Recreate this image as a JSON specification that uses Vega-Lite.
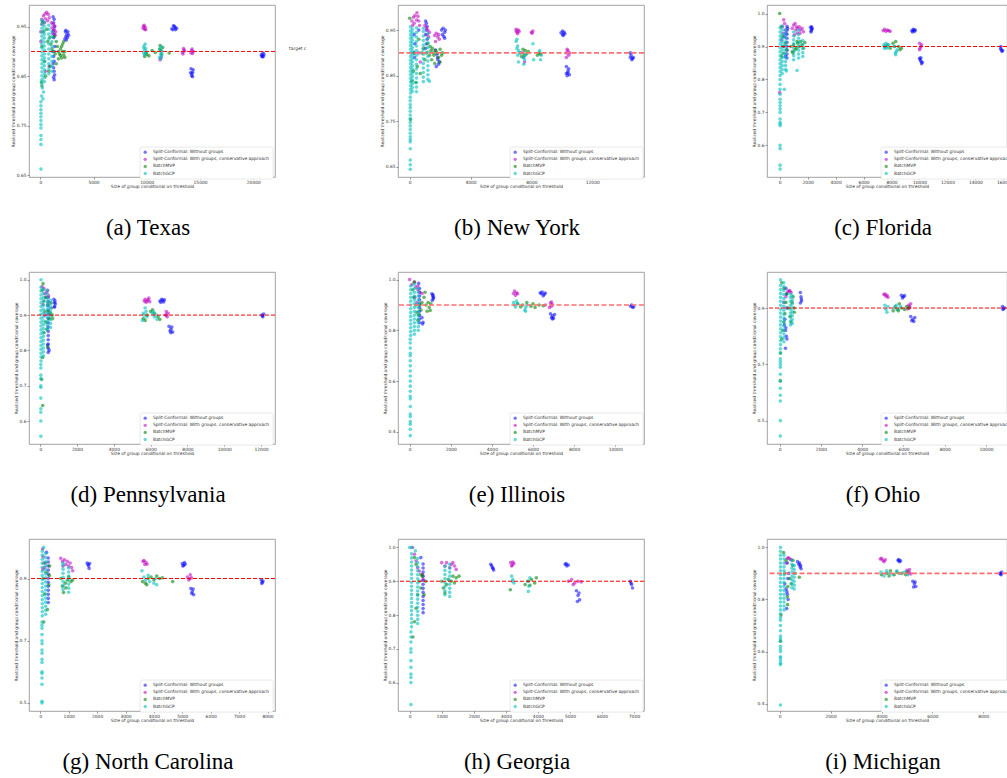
{
"$schema": "https://vega.github.io/schema/vega-lite/v6.json",
"padding": {"left": 9, "top": 4, "right": 0, "bottom": 0},
"background": "white",
"config": {
  "font": "DejaVu Sans",
  "view": {"stroke": "#8c8c8c", "strokeWidth": 0.8},
  "axis": {"labelFontSize": 4.4, "titleFontSize": 4.4, "labelColor": "#333", "titleColor": "#333", "titleFontWeight": "normal", "grid": false, "domain": false, "tickSize": 2, "tickColor": "#555", "tickWidth": 0.6, "labelPadding": 1, "titlePadding": 1, "labelFlush": false, "labelOverlap": false},
  "legend": {"title": null, "orient": "none", "labelFontSize": 4.4, "labelColor": "#333", "symbolSize": 11, "symbolType": "circle", "rowPadding": 2.1, "padding": 3, "labelOffset": 5.5, "fillColor": "white", "strokeColor": "#d9d9d9", "strokeWidth": 0.6, "cornerRadius": 1.5, "symbolStrokeWidth": 0, "labelLimit": 300},
  "title": {"font": "Liberation Serif", "fontSize": 23, "fontWeight": "normal", "color": "black", "orient": "bottom", "offset": 29.5, "anchor": "middle", "frame": "group", "dx": -4}
},
"datasets": {
"tx": [
{"m":"A","x":1200,"y":0.97},{"m":"A","x":1300,"y":0.965},{"m":"A","x":1250,"y":0.958},{"m":"A","x":1350,"y":0.95},{"m":"A","x":1200,"y":0.942},{"m":"A","x":1300,"y":0.935},{"m":"A","x":1250,"y":0.928},{"m":"A","x":1350,"y":0.91},{"m":"A","x":1300,"y":0.9},{"m":"A","x":1250,"y":0.89},{"m":"A","x":1300,"y":0.88},{"m":"A","x":1200,"y":0.875},{"m":"A","x":1250,"y":0.867},{"m":"A","x":1300,"y":0.86},{"m":"A","x":1350,"y":0.853},{"m":"A","x":1250,"y":0.848},{"m":"A","x":1300,"y":0.843},
{"m":"A","x":2300,"y":0.925},{"m":"A","x":2400,"y":0.93},{"m":"A","x":2500,"y":0.935},{"m":"A","x":2600,"y":0.94},{"m":"A","x":2350,"y":0.94},{"m":"A","x":2450,"y":0.923},{"m":"A","x":2550,"y":0.928},{"m":"A","x":2650,"y":0.933},{"m":"A","x":2400,"y":0.943},
{"m":"A","x":12350,"y":0.946},{"m":"A","x":12500,"y":0.952},{"m":"A","x":12650,"y":0.948},{"m":"A","x":12450,"y":0.944},{"m":"A","x":12600,"y":0.951},{"m":"A","x":12800,"y":0.947},{"m":"A","x":12700,"y":0.944},
{"m":"A","x":14150,"y":0.865},{"m":"A","x":14300,"y":0.858},{"m":"A","x":14200,"y":0.851},{"m":"A","x":14350,"y":0.863},{"m":"A","x":14250,"y":0.855},{"m":"A","x":14100,"y":0.857},{"m":"A","x":14300,"y":0.849},
{"m":"A","x":20750,"y":0.893},{"m":"A","x":20900,"y":0.897},{"m":"A","x":20850,"y":0.889},{"m":"A","x":21000,"y":0.894},{"m":"A","x":20800,"y":0.891},{"m":"A","x":20950,"y":0.89},
{"m":"B","x":150,"y":0.965},{"m":"B","x":300,"y":0.972},{"m":"B","x":450,"y":0.976},{"m":"B","x":600,"y":0.979},{"m":"B","x":750,"y":0.975},{"m":"B","x":250,"y":0.96},{"m":"B","x":500,"y":0.966},{"m":"B","x":700,"y":0.962},{"m":"B","x":850,"y":0.968},{"m":"B","x":400,"y":0.958},{"m":"B","x":150,"y":0.955},{"m":"B","x":50,"y":0.94},{"m":"B","x":50,"y":0.92},{"m":"B","x":500,"y":0.86},{"m":"B","x":850,"y":0.87},
{"m":"B","x":1050,"y":0.958},{"m":"B","x":1200,"y":0.955},{"m":"B","x":1350,"y":0.952},{"m":"B","x":1100,"y":0.948},{"m":"B","x":1300,"y":0.945},{"m":"B","x":1450,"y":0.94},{"m":"B","x":1150,"y":0.937},{"m":"B","x":1400,"y":0.933},{"m":"B","x":1250,"y":0.942},
{"m":"B","x":9650,"y":0.947},{"m":"B","x":9750,"y":0.953},{"m":"B","x":9850,"y":0.949},{"m":"B","x":9900,"y":0.944},{"m":"B","x":9700,"y":0.951},{"m":"B","x":9800,"y":0.945},
{"m":"B","x":11250,"y":0.883},{"m":"B","x":11350,"y":0.888},
{"m":"B","x":13350,"y":0.898},{"m":"B","x":13450,"y":0.906},{"m":"B","x":13550,"y":0.901},{"m":"B","x":13400,"y":0.895},{"m":"B","x":13500,"y":0.903},
{"m":"B","x":14150,"y":0.897},{"m":"B","x":14250,"y":0.905},{"m":"B","x":14350,"y":0.9},{"m":"B","x":14200,"y":0.902},{"m":"B","x":14300,"y":0.896},
{"m":"C","x":900,"y":0.928},{"m":"C","x":1000,"y":0.915},{"m":"C","x":1100,"y":0.905},{"m":"C","x":1200,"y":0.9},{"m":"C","x":1300,"y":0.93},{"m":"C","x":1500,"y":0.92},{"m":"C","x":1600,"y":0.91},{"m":"C","x":1700,"y":0.9},{"m":"C","x":1800,"y":0.895},{"m":"C","x":1900,"y":0.905},{"m":"C","x":2000,"y":0.91},{"m":"C","x":2100,"y":0.9},{"m":"C","x":2200,"y":0.893},{"m":"C","x":2300,"y":0.888},{"m":"C","x":2000,"y":0.887},{"m":"C","x":2100,"y":0.915},{"m":"C","x":1900,"y":0.892},{"m":"C","x":2300,"y":0.9},{"m":"C","x":2200,"y":0.92},{"m":"C","x":1400,"y":0.895},{"m":"C","x":1700,"y":0.885},{"m":"C","x":1500,"y":0.875},
{"m":"C","x":200,"y":0.96},{"m":"C","x":300,"y":0.94},{"m":"C","x":150,"y":0.91},{"m":"C","x":400,"y":0.88},{"m":"C","x":100,"y":0.838},{"m":"C","x":150,"y":0.83},{"m":"C","x":600,"y":0.945},{"m":"C","x":700,"y":0.92},{"m":"C","x":800,"y":0.86},{"m":"C","x":900,"y":0.87},{"m":"C","x":500,"y":0.85},
{"m":"C","x":9800,"y":0.89},{"m":"C","x":10000,"y":0.894},{"m":"C","x":10200,"y":0.891},{"m":"C","x":10500,"y":0.902},{"m":"C","x":10800,"y":0.898},{"m":"C","x":9900,"y":0.897},
{"m":"C","x":11250,"y":0.912},{"m":"C","x":11350,"y":0.902},{"m":"C","x":11400,"y":0.895},{"m":"C","x":11200,"y":0.905},{"m":"C","x":11500,"y":0.908},{"m":"C","x":12100,"y":0.897},
{"m":"D","x":150,"y":0.835},{"m":"D","x":150,"y":0.843},{"m":"D","x":150,"y":0.851},{"m":"D","x":150,"y":0.859},{"m":"D","x":150,"y":0.867},{"m":"D","x":150,"y":0.875},{"m":"D","x":150,"y":0.883},{"m":"D","x":150,"y":0.891},{"m":"D","x":150,"y":0.899},{"m":"D","x":150,"y":0.907},{"m":"D","x":150,"y":0.915},{"m":"D","x":150,"y":0.923},{"m":"D","x":150,"y":0.931},{"m":"D","x":150,"y":0.939},{"m":"D","x":150,"y":0.947},{"m":"D","x":150,"y":0.955},{"m":"D","x":150,"y":0.963},
{"m":"D","x":380,"y":0.839},{"m":"D","x":380,"y":0.847},{"m":"D","x":380,"y":0.855},{"m":"D","x":380,"y":0.863},{"m":"D","x":380,"y":0.871},{"m":"D","x":380,"y":0.879},{"m":"D","x":380,"y":0.887},{"m":"D","x":380,"y":0.895},{"m":"D","x":380,"y":0.903},{"m":"D","x":380,"y":0.911},{"m":"D","x":380,"y":0.919},{"m":"D","x":380,"y":0.927},{"m":"D","x":380,"y":0.935},{"m":"D","x":380,"y":0.943},{"m":"D","x":380,"y":0.951},{"m":"D","x":380,"y":0.959},
{"m":"D","x":200,"y":0.826},{"m":"D","x":300,"y":0.818},{"m":"D","x":120,"y":0.81},{"m":"D","x":250,"y":0.804},
{"m":"D","x":60,"y":0.798},{"m":"D","x":60,"y":0.79},{"m":"D","x":60,"y":0.782},{"m":"D","x":60,"y":0.775},{"m":"D","x":60,"y":0.768},{"m":"D","x":60,"y":0.76},{"m":"D","x":60,"y":0.752},{"m":"D","x":60,"y":0.745},{"m":"D","x":60,"y":0.73},{"m":"D","x":60,"y":0.722},{"m":"D","x":60,"y":0.712},{"m":"D","x":60,"y":0.662},
{"m":"D","x":800,"y":0.855},{"m":"D","x":800,"y":0.865},{"m":"D","x":800,"y":0.875},{"m":"D","x":800,"y":0.885},{"m":"D","x":800,"y":0.895},{"m":"D","x":800,"y":0.905},{"m":"D","x":800,"y":0.915},{"m":"D","x":800,"y":0.925},{"m":"D","x":800,"y":0.935},{"m":"D","x":800,"y":0.945},{"m":"D","x":800,"y":0.953},
{"m":"D","x":1100,"y":0.86},{"m":"D","x":1100,"y":0.87},{"m":"D","x":1100,"y":0.88},{"m":"D","x":1100,"y":0.89},{"m":"D","x":1100,"y":0.9},{"m":"D","x":1100,"y":0.91},{"m":"D","x":1100,"y":0.92},{"m":"D","x":1100,"y":0.93},{"m":"D","x":1100,"y":0.94},
{"m":"D","x":9700,"y":0.897},{"m":"D","x":9800,"y":0.902},{"m":"D","x":9900,"y":0.906},{"m":"D","x":9750,"y":0.911},{"m":"D","x":9850,"y":0.915},{"m":"D","x":9950,"y":0.899},{"m":"D","x":9700,"y":0.907},{"m":"D","x":9800,"y":0.893},
{"m":"D","x":11200,"y":0.888},{"m":"D","x":11300,"y":0.895},{"m":"D","x":11400,"y":0.9},{"m":"D","x":11250,"y":0.905},{"m":"D","x":11350,"y":0.91},{"m":"D","x":11300,"y":0.885},{"m":"D","x":11400,"y":0.892}
],
"ny": [
{"m":"A","x":1050,"y":0.97},{"m":"A","x":1100,"y":0.965},{"m":"A","x":1150,"y":0.958},{"m":"A","x":1100,"y":0.95},{"m":"A","x":1050,"y":0.94},{"m":"A","x":1150,"y":0.93},{"m":"A","x":1100,"y":0.92},{"m":"A","x":1050,"y":0.91},{"m":"A","x":300,"y":0.94},{"m":"A","x":350,"y":0.92},{"m":"A","x":280,"y":0.9},{"m":"A","x":320,"y":0.89},{"m":"A","x":600,"y":0.95},
{"m":"A","x":1700,"y":0.906},{"m":"A","x":1800,"y":0.897},{"m":"A","x":1850,"y":0.885},{"m":"A","x":1900,"y":0.875},{"m":"A","x":1830,"y":0.89},{"m":"A","x":1950,"y":0.88},{"m":"A","x":1750,"y":0.87},
{"m":"A","x":2100,"y":0.95},{"m":"A","x":2200,"y":0.954},{"m":"A","x":2300,"y":0.945},{"m":"A","x":2250,"y":0.936},{"m":"A","x":2350,"y":0.95},{"m":"A","x":2150,"y":0.94},{"m":"A","x":2300,"y":0.932},
{"m":"A","x":9950,"y":0.944},{"m":"A","x":10050,"y":0.94},{"m":"A","x":10150,"y":0.945},{"m":"A","x":10050,"y":0.948},{"m":"A","x":10100,"y":0.938},{"m":"A","x":10200,"y":0.942},
{"m":"A","x":10300,"y":0.87},{"m":"A","x":10400,"y":0.86},{"m":"A","x":10350,"y":0.85},{"m":"A","x":10450,"y":0.865},{"m":"A","x":10300,"y":0.855},{"m":"A","x":10400,"y":0.856},{"m":"A","x":10500,"y":0.852},
{"m":"A","x":14500,"y":0.89},{"m":"A","x":14600,"y":0.885},{"m":"A","x":14550,"y":0.895},{"m":"A","x":14650,"y":0.888},{"m":"A","x":14500,"y":0.9},{"m":"A","x":14700,"y":0.89},
{"m":"B","x":150,"y":0.97},{"m":"B","x":250,"y":0.978},{"m":"B","x":350,"y":0.982},{"m":"B","x":480,"y":0.988},{"m":"B","x":550,"y":0.98},{"m":"B","x":300,"y":0.965},{"m":"B","x":450,"y":0.972},{"m":"B","x":600,"y":0.97},{"m":"B","x":200,"y":0.96},{"m":"B","x":650,"y":0.96},
{"m":"B","x":1000,"y":0.96},{"m":"B","x":1100,"y":0.955},{"m":"B","x":1200,"y":0.95},{"m":"B","x":1300,"y":0.945},{"m":"B","x":1250,"y":0.935},{"m":"B","x":1150,"y":0.94},{"m":"B","x":700,"y":0.88},{"m":"B","x":600,"y":0.9},
{"m":"B","x":1650,"y":0.938},{"m":"B","x":1750,"y":0.943},{"m":"B","x":1850,"y":0.935},{"m":"B","x":1950,"y":0.93},{"m":"B","x":1700,"y":0.925},{"m":"B","x":1900,"y":0.94},
{"m":"B","x":7000,"y":0.948},{"m":"B","x":7050,"y":0.945},{"m":"B","x":7150,"y":0.95},{"m":"B","x":7100,"y":0.942},{"m":"B","x":7200,"y":0.947},{"m":"B","x":7000,"y":0.952},
{"m":"B","x":7500,"y":0.89},{"m":"B","x":7550,"y":0.88},{"m":"B","x":7450,"y":0.9},{"m":"B","x":8000,"y":0.945},{"m":"B","x":8050,"y":0.943},{"m":"B","x":8100,"y":0.948},
{"m":"B","x":10300,"y":0.9},{"m":"B","x":10400,"y":0.905},{"m":"B","x":10450,"y":0.895},{"m":"B","x":10350,"y":0.908},{"m":"B","x":10300,"y":0.89},{"m":"B","x":10500,"y":0.9},
{"m":"C","x":0,"y":0.976},{"m":"C","x":60,"y":0.754},{"m":"C","x":150,"y":0.838},{"m":"C","x":250,"y":0.86},{"m":"C","x":400,"y":0.835},{"m":"C","x":500,"y":0.87},{"m":"C","x":700,"y":0.855},{"m":"C","x":800,"y":0.9},{"m":"C","x":900,"y":0.91},{"m":"C","x":1000,"y":0.885},{"m":"C","x":1200,"y":0.92},
{"m":"C","x":1300,"y":0.895},{"m":"C","x":1400,"y":0.905},{"m":"C","x":1500,"y":0.91},{"m":"C","x":1600,"y":0.895},{"m":"C","x":1700,"y":0.905},{"m":"C","x":1800,"y":0.9},{"m":"C","x":1900,"y":0.89},{"m":"C","x":2000,"y":0.908},{"m":"C","x":2100,"y":0.895},{"m":"C","x":2150,"y":0.9},{"m":"C","x":1350,"y":0.914},{"m":"C","x":1450,"y":0.885},{"m":"C","x":1650,"y":0.877},{"m":"C","x":2000,"y":0.88},{"m":"C","x":1550,"y":0.9},
{"m":"C","x":600,"y":0.93},{"m":"C","x":300,"y":0.9},{"m":"C","x":1100,"y":0.9},
{"m":"C","x":7300,"y":0.9},{"m":"C","x":7450,"y":0.908},{"m":"C","x":7600,"y":0.905},{"m":"C","x":7700,"y":0.898},{"m":"C","x":7550,"y":0.895},{"m":"C","x":7800,"y":0.903},{"m":"C","x":7350,"y":0.892},
{"m":"C","x":8400,"y":0.895},{"m":"C","x":8500,"y":0.9},{"m":"C","x":8600,"y":0.897},
{"m":"D","x":60,"y":0.812},{"m":"D","x":60,"y":0.82},{"m":"D","x":60,"y":0.828},{"m":"D","x":60,"y":0.836},{"m":"D","x":60,"y":0.844},{"m":"D","x":60,"y":0.852},{"m":"D","x":60,"y":0.86},{"m":"D","x":60,"y":0.868},{"m":"D","x":60,"y":0.876},{"m":"D","x":60,"y":0.884},{"m":"D","x":60,"y":0.892},{"m":"D","x":60,"y":0.9},{"m":"D","x":60,"y":0.908},{"m":"D","x":60,"y":0.916},{"m":"D","x":60,"y":0.924},{"m":"D","x":60,"y":0.932},{"m":"D","x":60,"y":0.94},{"m":"D","x":60,"y":0.948},{"m":"D","x":60,"y":0.957},
{"m":"D","x":180,"y":0.816},{"m":"D","x":180,"y":0.824},{"m":"D","x":180,"y":0.832},{"m":"D","x":180,"y":0.84},{"m":"D","x":180,"y":0.848},{"m":"D","x":180,"y":0.856},{"m":"D","x":180,"y":0.864},{"m":"D","x":180,"y":0.872},{"m":"D","x":180,"y":0.88},{"m":"D","x":180,"y":0.888},{"m":"D","x":180,"y":0.896},{"m":"D","x":180,"y":0.904},{"m":"D","x":180,"y":0.912},{"m":"D","x":180,"y":0.92},{"m":"D","x":180,"y":0.928},{"m":"D","x":180,"y":0.936},{"m":"D","x":180,"y":0.944},{"m":"D","x":180,"y":0.952},
{"m":"D","x":40,"y":0.803},{"m":"D","x":40,"y":0.795},{"m":"D","x":40,"y":0.787},{"m":"D","x":40,"y":0.78},{"m":"D","x":40,"y":0.772},{"m":"D","x":40,"y":0.764},{"m":"D","x":40,"y":0.756},{"m":"D","x":40,"y":0.748},{"m":"D","x":40,"y":0.74},{"m":"D","x":40,"y":0.732},{"m":"D","x":40,"y":0.724},{"m":"D","x":40,"y":0.716},{"m":"D","x":40,"y":0.71},{"m":"D","x":40,"y":0.705},{"m":"D","x":40,"y":0.69},{"m":"D","x":40,"y":0.665},{"m":"D","x":40,"y":0.655},{"m":"D","x":40,"y":0.645},
{"m":"D","x":450,"y":0.815},{"m":"D","x":450,"y":0.825},{"m":"D","x":450,"y":0.835},{"m":"D","x":450,"y":0.845},{"m":"D","x":450,"y":0.855},{"m":"D","x":450,"y":0.865},{"m":"D","x":450,"y":0.875},{"m":"D","x":450,"y":0.885},{"m":"D","x":450,"y":0.895},{"m":"D","x":450,"y":0.905},{"m":"D","x":450,"y":0.915},{"m":"D","x":450,"y":0.925},{"m":"D","x":450,"y":0.935},{"m":"D","x":450,"y":0.945},{"m":"D","x":450,"y":0.955},
{"m":"D","x":900,"y":0.837},{"m":"D","x":900,"y":0.847},{"m":"D","x":900,"y":0.857},{"m":"D","x":900,"y":0.867},{"m":"D","x":900,"y":0.877},{"m":"D","x":900,"y":0.887},{"m":"D","x":900,"y":0.897},{"m":"D","x":900,"y":0.907},{"m":"D","x":900,"y":0.917},{"m":"D","x":900,"y":0.927},{"m":"D","x":900,"y":0.937},{"m":"D","x":900,"y":0.947},{"m":"D","x":900,"y":0.954},
{"m":"D","x":1200,"y":0.842},{"m":"D","x":1200,"y":0.852},{"m":"D","x":1200,"y":0.862},{"m":"D","x":1200,"y":0.872},{"m":"D","x":1200,"y":0.882},{"m":"D","x":1200,"y":0.892},{"m":"D","x":1200,"y":0.902},{"m":"D","x":1200,"y":0.912},{"m":"D","x":1200,"y":0.922},{"m":"D","x":1200,"y":0.932},{"m":"D","x":1200,"y":0.942},{"m":"D","x":1300,"y":0.838},
{"m":"D","x":7000,"y":0.925},{"m":"D","x":7050,"y":0.91},{"m":"D","x":7100,"y":0.895},{"m":"D","x":7150,"y":0.88},{"m":"D","x":7200,"y":0.9},{"m":"D","x":7050,"y":0.93},{"m":"D","x":7100,"y":0.915},{"m":"D","x":7150,"y":0.905},
{"m":"D","x":7500,"y":0.875},{"m":"D","x":7550,"y":0.885},{"m":"D","x":7600,"y":0.895},{"m":"D","x":7450,"y":0.89},{"m":"D","x":8100,"y":0.92},{"m":"D","x":8150,"y":0.885},
{"m":"D","x":8550,"y":0.905},{"m":"D","x":8600,"y":0.885},{"m":"D","x":8650,"y":0.895}
],
"fl": [
{"m":"A","x":520,"y":0.865},{"m":"A","x":520,"y":0.877},{"m":"A","x":520,"y":0.889},{"m":"A","x":520,"y":0.901},{"m":"A","x":520,"y":0.913},{"m":"A","x":520,"y":0.925},{"m":"A","x":520,"y":0.937},{"m":"A","x":520,"y":0.949},{"m":"A","x":520,"y":0.961},{"m":"A","x":450,"y":0.94},{"m":"A","x":420,"y":0.87},{"m":"A","x":570,"y":0.955},{"m":"A","x":350,"y":0.93},
{"m":"A","x":2200,"y":0.958},{"m":"A","x":2250,"y":0.948},{"m":"A","x":2300,"y":0.952},{"m":"A","x":2240,"y":0.944},{"m":"A","x":2320,"y":0.955},{"m":"A","x":2280,"y":0.96},
{"m":"A","x":9450,"y":0.948},{"m":"A","x":9550,"y":0.952},{"m":"A","x":9650,"y":0.946},{"m":"A","x":9600,"y":0.95},{"m":"A","x":9500,"y":0.944},{"m":"A","x":9700,"y":0.95},
{"m":"A","x":10000,"y":0.864},{"m":"A","x":10100,"y":0.855},{"m":"A","x":10150,"y":0.848},{"m":"A","x":10050,"y":0.86},{"m":"A","x":10200,"y":0.852},{"m":"A","x":10100,"y":0.866},
{"m":"A","x":15800,"y":0.893},{"m":"A","x":15900,"y":0.885},{"m":"A","x":15850,"y":0.89},{"m":"A","x":15950,"y":0.888},{"m":"A","x":15820,"y":0.9},
{"m":"B","x":0,"y":0.76},{"m":"B","x":200,"y":0.96},{"m":"B","x":290,"y":0.981},{"m":"B","x":350,"y":0.97},{"m":"B","x":250,"y":0.94},{"m":"B","x":400,"y":0.95},{"m":"B","x":150,"y":0.92},{"m":"B","x":300,"y":0.9},
{"m":"B","x":900,"y":0.955},{"m":"B","x":1000,"y":0.965},{"m":"B","x":1100,"y":0.97},{"m":"B","x":1200,"y":0.96},{"m":"B","x":1300,"y":0.955},{"m":"B","x":1400,"y":0.96},{"m":"B","x":1500,"y":0.95},{"m":"B","x":1600,"y":0.955},{"m":"B","x":1700,"y":0.945},{"m":"B","x":1250,"y":0.94},{"m":"B","x":1050,"y":0.935},{"m":"B","x":1150,"y":0.95},{"m":"B","x":1450,"y":0.94},
{"m":"B","x":7400,"y":0.948},{"m":"B","x":7500,"y":0.952},{"m":"B","x":7600,"y":0.946},{"m":"B","x":7700,"y":0.95},{"m":"B","x":7800,"y":0.948},{"m":"B","x":7900,"y":0.946},
{"m":"B","x":10000,"y":0.91},{"m":"B","x":10100,"y":0.9},{"m":"B","x":10050,"y":0.895},{"m":"B","x":10150,"y":0.905},{"m":"B","x":10000,"y":0.89},
{"m":"C","x":0,"y":1.0},{"m":"C","x":100,"y":0.96},{"m":"C","x":200,"y":0.93},{"m":"C","x":250,"y":0.9},{"m":"C","x":150,"y":0.87},{"m":"C","x":300,"y":0.88},{"m":"C","x":400,"y":0.91},{"m":"C","x":500,"y":0.89},
{"m":"C","x":800,"y":0.9},{"m":"C","x":900,"y":0.885},{"m":"C","x":1000,"y":0.905},{"m":"C","x":1100,"y":0.89},{"m":"C","x":1200,"y":0.895},{"m":"C","x":1300,"y":0.91},{"m":"C","x":1400,"y":0.9},{"m":"C","x":1500,"y":0.915},{"m":"C","x":1600,"y":0.905},{"m":"C","x":1700,"y":0.895},{"m":"C","x":1800,"y":0.912},{"m":"C","x":950,"y":0.88},{"m":"C","x":1250,"y":0.915},
{"m":"C","x":7500,"y":0.9},{"m":"C","x":7700,"y":0.905},{"m":"C","x":7900,"y":0.895},{"m":"C","x":8100,"y":0.91},{"m":"C","x":8300,"y":0.915},{"m":"C","x":8500,"y":0.9},{"m":"C","x":8700,"y":0.895},{"m":"C","x":8600,"y":0.89},{"m":"C","x":8200,"y":0.9},
{"m":"D","x":30,"y":0.528},{"m":"D","x":30,"y":0.54},{"m":"D","x":30,"y":0.59},{"m":"D","x":30,"y":0.6},{"m":"D","x":30,"y":0.66},{"m":"D","x":30,"y":0.665},{"m":"D","x":30,"y":0.67},{"m":"D","x":30,"y":0.68},{"m":"D","x":30,"y":0.7},{"m":"D","x":30,"y":0.71},{"m":"D","x":30,"y":0.72},{"m":"D","x":30,"y":0.73},{"m":"D","x":30,"y":0.74},{"m":"D","x":30,"y":0.755},{"m":"D","x":30,"y":0.77},{"m":"D","x":30,"y":0.785},{"m":"D","x":30,"y":0.8},
{"m":"D","x":30,"y":0.812},{"m":"D","x":30,"y":0.824},{"m":"D","x":30,"y":0.836},{"m":"D","x":30,"y":0.848},{"m":"D","x":30,"y":0.86},{"m":"D","x":30,"y":0.872},{"m":"D","x":30,"y":0.884},{"m":"D","x":30,"y":0.896},{"m":"D","x":30,"y":0.908},{"m":"D","x":30,"y":0.92},{"m":"D","x":30,"y":0.932},{"m":"D","x":30,"y":0.944},{"m":"D","x":30,"y":0.956},
{"m":"D","x":180,"y":0.818},{"m":"D","x":180,"y":0.83},{"m":"D","x":180,"y":0.842},{"m":"D","x":180,"y":0.854},{"m":"D","x":180,"y":0.866},{"m":"D","x":180,"y":0.878},{"m":"D","x":180,"y":0.89},{"m":"D","x":180,"y":0.902},{"m":"D","x":180,"y":0.914},{"m":"D","x":180,"y":0.926},{"m":"D","x":180,"y":0.938},{"m":"D","x":180,"y":0.95},{"m":"D","x":180,"y":0.962},
{"m":"D","x":420,"y":0.83},{"m":"D","x":420,"y":0.842},{"m":"D","x":420,"y":0.854},{"m":"D","x":420,"y":0.866},{"m":"D","x":420,"y":0.878},{"m":"D","x":420,"y":0.89},{"m":"D","x":420,"y":0.902},{"m":"D","x":420,"y":0.914},{"m":"D","x":420,"y":0.926},{"m":"D","x":420,"y":0.938},{"m":"D","x":420,"y":0.95},
{"m":"D","x":330,"y":0.77},{"m":"D","x":480,"y":0.826},{"m":"D","x":1240,"y":0.827},
{"m":"D","x":1000,"y":0.86},{"m":"D","x":1000,"y":0.872},{"m":"D","x":1000,"y":0.884},{"m":"D","x":1000,"y":0.896},{"m":"D","x":1000,"y":0.908},{"m":"D","x":1000,"y":0.92},{"m":"D","x":1000,"y":0.932},{"m":"D","x":1000,"y":0.944},
{"m":"D","x":1350,"y":0.865},{"m":"D","x":1350,"y":0.877},{"m":"D","x":1350,"y":0.889},{"m":"D","x":1350,"y":0.901},{"m":"D","x":1350,"y":0.913},{"m":"D","x":1350,"y":0.925},{"m":"D","x":1350,"y":0.937},{"m":"D","x":1350,"y":0.949},
{"m":"D","x":1650,"y":0.87},{"m":"D","x":1650,"y":0.882},{"m":"D","x":1650,"y":0.894},{"m":"D","x":1650,"y":0.906},{"m":"D","x":1650,"y":0.918},
{"m":"D","x":7500,"y":0.895},{"m":"D","x":7600,"y":0.91},{"m":"D","x":7700,"y":0.9},{"m":"D","x":7800,"y":0.905},{"m":"D","x":7550,"y":0.9},{"m":"D","x":7650,"y":0.895},{"m":"D","x":8200,"y":0.9},{"m":"D","x":8270,"y":0.88},{"m":"D","x":8300,"y":0.875},{"m":"D","x":8400,"y":0.89},{"m":"D","x":7450,"y":0.905},{"m":"D","x":8350,"y":0.885}
],
"pa": [
{"m":"A","x":430,"y":0.794},{"m":"A","x":430,"y":0.806},{"m":"A","x":430,"y":0.818},{"m":"A","x":430,"y":0.83},{"m":"A","x":430,"y":0.842},{"m":"A","x":430,"y":0.854},{"m":"A","x":430,"y":0.866},{"m":"A","x":430,"y":0.878},{"m":"A","x":430,"y":0.89},{"m":"A","x":430,"y":0.902},{"m":"A","x":430,"y":0.914},{"m":"A","x":430,"y":0.926},{"m":"A","x":430,"y":0.938},{"m":"A","x":430,"y":0.95},{"m":"A","x":480,"y":0.8},{"m":"A","x":400,"y":0.815},
{"m":"A","x":740,"y":0.945},{"m":"A","x":760,"y":0.935},{"m":"A","x":780,"y":0.925},{"m":"A","x":800,"y":0.94},{"m":"A","x":760,"y":0.922},{"m":"A","x":820,"y":0.932},
{"m":"A","x":6500,"y":0.94},{"m":"A","x":6600,"y":0.945},{"m":"A","x":6700,"y":0.937},{"m":"A","x":6650,"y":0.942},{"m":"A","x":6550,"y":0.936},{"m":"A","x":6750,"y":0.943},
{"m":"A","x":7000,"y":0.868},{"m":"A","x":7100,"y":0.86},{"m":"A","x":7200,"y":0.852},{"m":"A","x":7050,"y":0.855},{"m":"A","x":7150,"y":0.866},{"m":"A","x":7100,"y":0.85},
{"m":"A","x":12050,"y":0.9},{"m":"A","x":12100,"y":0.895},{"m":"A","x":12150,"y":0.903},{"m":"A","x":12080,"y":0.898},
{"m":"B","x":200,"y":0.975},{"m":"B","x":250,"y":0.96},{"m":"B","x":300,"y":0.95},{"m":"B","x":350,"y":0.965},{"m":"B","x":400,"y":0.97},{"m":"B","x":150,"y":0.93},{"m":"B","x":250,"y":0.9},{"m":"B","x":450,"y":0.955},{"m":"B","x":100,"y":0.98},
{"m":"B","x":5700,"y":0.945},{"m":"B","x":5800,"y":0.94},{"m":"B","x":5900,"y":0.948},{"m":"B","x":5750,"y":0.936},{"m":"B","x":5850,"y":0.943},{"m":"B","x":5950,"y":0.938},{"m":"B","x":5650,"y":0.94},
{"m":"B","x":6800,"y":0.9},{"m":"B","x":6850,"y":0.91},{"m":"B","x":6900,"y":0.895},{"m":"B","x":6950,"y":0.905},{"m":"B","x":6850,"y":0.9},
{"m":"C","x":130,"y":0.644},{"m":"C","x":70,"y":0.718},{"m":"C","x":130,"y":0.78},{"m":"C","x":150,"y":0.989},{"m":"C","x":100,"y":0.97},{"m":"C","x":200,"y":0.94},{"m":"C","x":250,"y":0.91},{"m":"C","x":300,"y":0.88},{"m":"C","x":350,"y":0.86},{"m":"C","x":200,"y":0.85},{"m":"C","x":300,"y":0.95},{"m":"C","x":400,"y":0.93},{"m":"C","x":450,"y":0.91},{"m":"C","x":500,"y":0.89},{"m":"C","x":580,"y":0.935},{"m":"C","x":600,"y":0.92},{"m":"C","x":650,"y":0.9},{"m":"C","x":670,"y":0.89},{"m":"C","x":550,"y":0.905},{"m":"C","x":400,"y":0.81},
{"m":"C","x":5600,"y":0.89},{"m":"C","x":5800,"y":0.9},{"m":"C","x":6000,"y":0.91},{"m":"C","x":6100,"y":0.915},{"m":"C","x":6200,"y":0.905},{"m":"C","x":6400,"y":0.895},{"m":"C","x":6500,"y":0.888},{"m":"C","x":5700,"y":0.885},
{"m":"D","x":30,"y":0.557},{"m":"D","x":30,"y":0.6},{"m":"D","x":30,"y":0.625},{"m":"D","x":30,"y":0.635},{"m":"D","x":30,"y":0.665},{"m":"D","x":30,"y":0.695},{"m":"D","x":30,"y":0.7},{"m":"D","x":30,"y":0.72},{"m":"D","x":30,"y":0.73},{"m":"D","x":30,"y":0.75},{"m":"D","x":30,"y":0.76},
{"m":"D","x":40,"y":0.77},{"m":"D","x":40,"y":0.781},{"m":"D","x":40,"y":0.792},{"m":"D","x":40,"y":0.803},{"m":"D","x":40,"y":0.814},{"m":"D","x":40,"y":0.825},{"m":"D","x":40,"y":0.836},{"m":"D","x":40,"y":0.847},{"m":"D","x":40,"y":0.858},{"m":"D","x":40,"y":0.869},{"m":"D","x":40,"y":0.88},{"m":"D","x":40,"y":0.891},{"m":"D","x":40,"y":0.902},{"m":"D","x":40,"y":0.913},{"m":"D","x":40,"y":0.924},{"m":"D","x":40,"y":0.935},{"m":"D","x":40,"y":0.946},{"m":"D","x":40,"y":0.957},{"m":"D","x":40,"y":0.968},{"m":"D","x":40,"y":0.979},{"m":"D","x":40,"y":1.0},
{"m":"D","x":170,"y":0.785},{"m":"D","x":170,"y":0.796},{"m":"D","x":170,"y":0.807},{"m":"D","x":170,"y":0.818},{"m":"D","x":170,"y":0.829},{"m":"D","x":170,"y":0.84},{"m":"D","x":170,"y":0.851},{"m":"D","x":170,"y":0.862},{"m":"D","x":170,"y":0.873},{"m":"D","x":170,"y":0.884},{"m":"D","x":170,"y":0.895},{"m":"D","x":170,"y":0.906},{"m":"D","x":170,"y":0.917},{"m":"D","x":170,"y":0.928},{"m":"D","x":170,"y":0.939},{"m":"D","x":170,"y":0.95},{"m":"D","x":170,"y":0.961},{"m":"D","x":170,"y":0.972},
{"m":"D","x":380,"y":0.86},{"m":"D","x":380,"y":0.871},{"m":"D","x":380,"y":0.882},{"m":"D","x":380,"y":0.893},{"m":"D","x":380,"y":0.904},{"m":"D","x":380,"y":0.915},{"m":"D","x":380,"y":0.926},{"m":"D","x":380,"y":0.937},{"m":"D","x":380,"y":0.948},{"m":"D","x":380,"y":0.959},{"m":"D","x":380,"y":0.97},
{"m":"D","x":560,"y":0.865},{"m":"D","x":560,"y":0.876},{"m":"D","x":560,"y":0.887},{"m":"D","x":560,"y":0.898},{"m":"D","x":560,"y":0.909},{"m":"D","x":560,"y":0.92},{"m":"D","x":560,"y":0.931},{"m":"D","x":560,"y":0.942},
{"m":"D","x":5550,"y":0.885},{"m":"D","x":5650,"y":0.9},{"m":"D","x":5700,"y":0.92},{"m":"D","x":5750,"y":0.91},{"m":"D","x":5800,"y":0.895},{"m":"D","x":5600,"y":0.905},{"m":"D","x":6100,"y":0.905},{"m":"D","x":6200,"y":0.895},{"m":"D","x":6300,"y":0.9},{"m":"D","x":6350,"y":0.888},{"m":"D","x":6150,"y":0.91}
],
"il": [
{"m":"A","x":480,"y":0.83},{"m":"A","x":480,"y":0.845},{"m":"A","x":480,"y":0.86},{"m":"A","x":480,"y":0.875},{"m":"A","x":480,"y":0.89},{"m":"A","x":480,"y":0.905},{"m":"A","x":480,"y":0.92},{"m":"A","x":480,"y":0.935},{"m":"A","x":480,"y":0.95},{"m":"A","x":480,"y":0.965},{"m":"A","x":440,"y":0.985},{"m":"A","x":630,"y":0.825},{"m":"A","x":650,"y":0.832},{"m":"A","x":600,"y":0.85},
{"m":"A","x":1080,"y":0.944},{"m":"A","x":1120,"y":0.935},{"m":"A","x":1150,"y":0.925},{"m":"A","x":1100,"y":0.918},{"m":"A","x":1140,"y":0.94},{"m":"A","x":1160,"y":0.93},
{"m":"A","x":6350,"y":0.948},{"m":"A","x":6450,"y":0.951},{"m":"A","x":6550,"y":0.942},{"m":"A","x":6500,"y":0.936},{"m":"A","x":6400,"y":0.944},{"m":"A","x":6600,"y":0.947},
{"m":"A","x":6850,"y":0.865},{"m":"A","x":6950,"y":0.857},{"m":"A","x":7000,"y":0.848},{"m":"A","x":6900,"y":0.85},{"m":"A","x":7050,"y":0.862},{"m":"A","x":6950,"y":0.845},
{"m":"A","x":10750,"y":0.895},{"m":"A","x":10850,"y":0.89},{"m":"A","x":10800,"y":0.9},{"m":"A","x":10900,"y":0.893},
{"m":"B","x":0,"y":1.0},{"m":"B","x":230,"y":0.99},{"m":"B","x":300,"y":0.97},{"m":"B","x":400,"y":0.96},{"m":"B","x":500,"y":0.95},{"m":"B","x":600,"y":0.945},{"m":"B","x":250,"y":0.93},{"m":"B","x":350,"y":0.91},{"m":"B","x":100,"y":0.98},{"m":"B","x":400,"y":0.975},
{"m":"B","x":5100,"y":0.955},{"m":"B","x":5200,"y":0.948},{"m":"B","x":5150,"y":0.938},{"m":"B","x":5250,"y":0.944},{"m":"B","x":5050,"y":0.945},
{"m":"B","x":6600,"y":0.9},{"m":"B","x":6850,"y":0.908},{"m":"B","x":6900,"y":0.895},{"m":"B","x":6950,"y":0.902},{"m":"B","x":6800,"y":0.89},{"m":"B","x":6900,"y":0.912},
{"m":"C","x":230,"y":0.99},{"m":"C","x":150,"y":0.96},{"m":"C","x":200,"y":0.93},{"m":"C","x":300,"y":0.9},{"m":"C","x":350,"y":0.87},{"m":"C","x":400,"y":0.84},{"m":"C","x":450,"y":0.86},{"m":"C","x":500,"y":0.9},{"m":"C","x":550,"y":0.88},{"m":"C","x":600,"y":0.91},{"m":"C","x":700,"y":0.93},{"m":"C","x":800,"y":0.9},{"m":"C","x":850,"y":0.875},{"m":"C","x":900,"y":0.91},{"m":"C","x":950,"y":0.89},{"m":"C","x":1000,"y":0.878},{"m":"C","x":1030,"y":0.905},{"m":"C","x":750,"y":0.95},
{"m":"C","x":5250,"y":0.905},{"m":"C","x":5500,"y":0.9},{"m":"C","x":5700,"y":0.91},{"m":"C","x":5900,"y":0.895},{"m":"C","x":6000,"y":0.905},{"m":"C","x":6100,"y":0.89},{"m":"C","x":6300,"y":0.9},{"m":"C","x":6500,"y":0.897},{"m":"C","x":5400,"y":0.892},
{"m":"D","x":30,"y":0.385},{"m":"D","x":30,"y":0.41},{"m":"D","x":30,"y":0.43},{"m":"D","x":30,"y":0.44},{"m":"D","x":30,"y":0.46},{"m":"D","x":30,"y":0.47},{"m":"D","x":30,"y":0.5},{"m":"D","x":30,"y":0.53},{"m":"D","x":30,"y":0.54},{"m":"D","x":30,"y":0.56},{"m":"D","x":30,"y":0.58},{"m":"D","x":30,"y":0.6},{"m":"D","x":30,"y":0.62},{"m":"D","x":30,"y":0.64},{"m":"D","x":30,"y":0.66},{"m":"D","x":30,"y":0.68},{"m":"D","x":30,"y":0.7},{"m":"D","x":30,"y":0.71},{"m":"D","x":30,"y":0.73},{"m":"D","x":30,"y":0.75},{"m":"D","x":30,"y":0.765},
{"m":"D","x":50,"y":0.78},{"m":"D","x":50,"y":0.795},{"m":"D","x":50,"y":0.81},{"m":"D","x":50,"y":0.825},{"m":"D","x":50,"y":0.84},{"m":"D","x":50,"y":0.855},{"m":"D","x":50,"y":0.87},{"m":"D","x":50,"y":0.885},{"m":"D","x":50,"y":0.9},{"m":"D","x":50,"y":0.915},{"m":"D","x":50,"y":0.93},{"m":"D","x":50,"y":0.945},{"m":"D","x":50,"y":0.96},{"m":"D","x":50,"y":0.975},
{"m":"D","x":230,"y":0.785},{"m":"D","x":230,"y":0.8},{"m":"D","x":230,"y":0.815},{"m":"D","x":230,"y":0.83},{"m":"D","x":230,"y":0.845},{"m":"D","x":230,"y":0.86},{"m":"D","x":230,"y":0.875},{"m":"D","x":230,"y":0.89},{"m":"D","x":230,"y":0.905},{"m":"D","x":230,"y":0.92},{"m":"D","x":230,"y":0.935},{"m":"D","x":230,"y":0.95},{"m":"D","x":230,"y":0.965},{"m":"D","x":230,"y":0.98},
{"m":"D","x":420,"y":0.8},{"m":"D","x":420,"y":0.815},{"m":"D","x":420,"y":0.83},{"m":"D","x":420,"y":0.845},{"m":"D","x":420,"y":0.86},{"m":"D","x":420,"y":0.875},{"m":"D","x":420,"y":0.89},{"m":"D","x":420,"y":0.905},{"m":"D","x":420,"y":0.92},{"m":"D","x":420,"y":0.935},{"m":"D","x":420,"y":0.95},{"m":"D","x":420,"y":0.965},
{"m":"D","x":5050,"y":0.91},{"m":"D","x":5100,"y":0.9},{"m":"D","x":5150,"y":0.892},{"m":"D","x":5200,"y":0.915},{"m":"D","x":5250,"y":0.905},{"m":"D","x":5600,"y":0.88},{"m":"D","x":5650,"y":0.89},{"m":"D","x":5700,"y":0.9},{"m":"D","x":5640,"y":0.875}
],
"oh": [
{"m":"A","x":230,"y":0.84},{"m":"A","x":280,"y":0.82},{"m":"A","x":320,"y":0.8},{"m":"A","x":350,"y":0.79},{"m":"A","x":300,"y":0.83},{"m":"A","x":280,"y":0.757},{"m":"A","x":250,"y":0.86},{"m":"A","x":320,"y":0.95},{"m":"A","x":300,"y":0.97},{"m":"A","x":340,"y":0.9},
{"m":"A","x":1000,"y":0.955},{"m":"A","x":1030,"y":0.94},{"m":"A","x":1060,"y":0.925},{"m":"A","x":1000,"y":0.918},{"m":"A","x":1050,"y":0.932},
{"m":"A","x":5900,"y":0.945},{"m":"A","x":6000,"y":0.94},{"m":"A","x":5950,"y":0.936},{"m":"A","x":6050,"y":0.944},
{"m":"A","x":6350,"y":0.87},{"m":"A","x":6450,"y":0.86},{"m":"A","x":6500,"y":0.852},{"m":"A","x":6400,"y":0.855},{"m":"A","x":6550,"y":0.866},
{"m":"A","x":10800,"y":0.905},{"m":"A","x":10850,"y":0.898},{"m":"A","x":10900,"y":0.9},{"m":"A","x":10820,"y":0.895},
{"m":"B","x":390,"y":0.958},{"m":"B","x":450,"y":0.962},{"m":"B","x":550,"y":0.955},{"m":"B","x":500,"y":0.96},{"m":"B","x":300,"y":0.94},{"m":"B","x":200,"y":0.92},
{"m":"B","x":5050,"y":0.948},{"m":"B","x":5150,"y":0.942},{"m":"B","x":5250,"y":0.938},{"m":"B","x":5100,"y":0.95},{"m":"B","x":5200,"y":0.945},
{"m":"B","x":6250,"y":0.91},{"m":"B","x":6300,"y":0.9},{"m":"B","x":6350,"y":0.915},{"m":"B","x":6200,"y":0.897},{"m":"B","x":6300,"y":0.905},
{"m":"C","x":30,"y":0.642},{"m":"C","x":40,"y":0.74},{"m":"C","x":100,"y":0.79},{"m":"C","x":150,"y":0.82},{"m":"C","x":200,"y":0.85},{"m":"C","x":250,"y":0.88},{"m":"C","x":300,"y":0.92},{"m":"C","x":350,"y":0.95},{"m":"C","x":200,"y":0.97},{"m":"C","x":400,"y":0.9},{"m":"C","x":500,"y":0.87},{"m":"C","x":550,"y":0.85},{"m":"C","x":600,"y":0.92},{"m":"C","x":650,"y":0.94},{"m":"C","x":710,"y":0.885},{"m":"C","x":700,"y":0.9},{"m":"C","x":100,"y":0.99},
{"m":"C","x":5500,"y":0.89},{"m":"C","x":5600,"y":0.905},{"m":"C","x":5700,"y":0.895},{"m":"C","x":5800,"y":0.915},{"m":"C","x":5900,"y":0.9},{"m":"C","x":6050,"y":0.895},{"m":"C","x":6150,"y":0.905},{"m":"C","x":6250,"y":0.9},{"m":"C","x":5750,"y":0.89},
{"m":"D","x":30,"y":0.445},{"m":"D","x":30,"y":0.5},{"m":"D","x":30,"y":0.57},{"m":"D","x":30,"y":0.59},{"m":"D","x":30,"y":0.615},{"m":"D","x":30,"y":0.64},{"m":"D","x":30,"y":0.665},{"m":"D","x":30,"y":0.69},{"m":"D","x":30,"y":0.7},{"m":"D","x":30,"y":0.71},{"m":"D","x":30,"y":0.72},{"m":"D","x":30,"y":0.74},{"m":"D","x":30,"y":0.755},
{"m":"D","x":40,"y":0.77},{"m":"D","x":40,"y":0.784},{"m":"D","x":40,"y":0.798},{"m":"D","x":40,"y":0.812},{"m":"D","x":40,"y":0.826},{"m":"D","x":40,"y":0.84},{"m":"D","x":40,"y":0.854},{"m":"D","x":40,"y":0.868},{"m":"D","x":40,"y":0.882},{"m":"D","x":40,"y":0.896},{"m":"D","x":40,"y":0.91},{"m":"D","x":40,"y":0.924},{"m":"D","x":40,"y":0.938},{"m":"D","x":40,"y":0.952},{"m":"D","x":40,"y":0.966},{"m":"D","x":40,"y":0.98},{"m":"D","x":40,"y":1.0},
{"m":"D","x":200,"y":0.78},{"m":"D","x":200,"y":0.794},{"m":"D","x":200,"y":0.808},{"m":"D","x":200,"y":0.822},{"m":"D","x":200,"y":0.836},{"m":"D","x":200,"y":0.85},{"m":"D","x":200,"y":0.864},{"m":"D","x":200,"y":0.878},{"m":"D","x":200,"y":0.892},{"m":"D","x":200,"y":0.906},{"m":"D","x":200,"y":0.92},{"m":"D","x":200,"y":0.934},{"m":"D","x":200,"y":0.948},{"m":"D","x":200,"y":0.962},{"m":"D","x":200,"y":0.976},{"m":"D","x":200,"y":0.99},
{"m":"D","x":520,"y":0.84},{"m":"D","x":520,"y":0.854},{"m":"D","x":520,"y":0.868},{"m":"D","x":520,"y":0.882},{"m":"D","x":520,"y":0.896},{"m":"D","x":520,"y":0.91},{"m":"D","x":520,"y":0.924},{"m":"D","x":520,"y":0.938},{"m":"D","x":520,"y":0.95},
{"m":"D","x":610,"y":0.845},{"m":"D","x":610,"y":0.859},{"m":"D","x":610,"y":0.873},{"m":"D","x":610,"y":0.887},{"m":"D","x":610,"y":0.901},{"m":"D","x":610,"y":0.915},{"m":"D","x":610,"y":0.929},{"m":"D","x":610,"y":0.943},
{"m":"D","x":5100,"y":0.91},{"m":"D","x":5150,"y":0.895},{"m":"D","x":5200,"y":0.885},{"m":"D","x":5250,"y":0.905},{"m":"D","x":5550,"y":0.9},{"m":"D","x":5650,"y":0.91},{"m":"D","x":5750,"y":0.895},{"m":"D","x":5850,"y":0.905}
],
"nc": [
{"m":"A","x":280,"y":0.823},{"m":"A","x":280,"y":0.836},{"m":"A","x":280,"y":0.849},{"m":"A","x":280,"y":0.862},{"m":"A","x":280,"y":0.875},{"m":"A","x":280,"y":0.888},{"m":"A","x":280,"y":0.901},{"m":"A","x":280,"y":0.914},{"m":"A","x":280,"y":0.927},{"m":"A","x":280,"y":0.94},{"m":"A","x":280,"y":0.953},{"m":"A","x":280,"y":0.966},{"m":"A","x":220,"y":0.984},
{"m":"A","x":1650,"y":0.95},{"m":"A","x":1700,"y":0.94},{"m":"A","x":1720,"y":0.932},{"m":"A","x":1680,"y":0.945},{"m":"A","x":1740,"y":0.948},
{"m":"A","x":5000,"y":0.948},{"m":"A","x":5050,"y":0.942},{"m":"A","x":5100,"y":0.946},{"m":"A","x":5020,"y":0.94},{"m":"A","x":5080,"y":0.951},
{"m":"A","x":5300,"y":0.868},{"m":"A","x":5350,"y":0.858},{"m":"A","x":5400,"y":0.848},{"m":"A","x":5330,"y":0.852},{"m":"A","x":5380,"y":0.866},
{"m":"A","x":7780,"y":0.895},{"m":"A","x":7820,"y":0.888},{"m":"A","x":7800,"y":0.884},{"m":"A","x":7840,"y":0.892},
{"m":"B","x":80,"y":0.995},{"m":"B","x":100,"y":0.97},{"m":"B","x":120,"y":0.95},{"m":"B","x":150,"y":0.935},{"m":"B","x":90,"y":0.93},
{"m":"B","x":720,"y":0.965},{"m":"B","x":780,"y":0.955},{"m":"B","x":850,"y":0.96},{"m":"B","x":900,"y":0.945},{"m":"B","x":950,"y":0.955},{"m":"B","x":1000,"y":0.94},{"m":"B","x":1050,"y":0.95},{"m":"B","x":1100,"y":0.935},{"m":"B","x":1140,"y":0.925},{"m":"B","x":800,"y":0.94},
{"m":"B","x":3620,"y":0.955},{"m":"B","x":3680,"y":0.945},{"m":"B","x":3720,"y":0.952},{"m":"B","x":3760,"y":0.946},{"m":"B","x":3650,"y":0.958},
{"m":"B","x":5180,"y":0.905},{"m":"B","x":5230,"y":0.895},{"m":"B","x":5280,"y":0.912},{"m":"B","x":5250,"y":0.9},{"m":"B","x":5320,"y":0.902},
{"m":"C","x":120,"y":0.76},{"m":"C","x":250,"y":0.8},{"m":"C","x":150,"y":0.85},{"m":"C","x":100,"y":0.9},{"m":"C","x":180,"y":0.95},{"m":"C","x":300,"y":0.88},{"m":"C","x":320,"y":0.91},{"m":"C","x":330,"y":0.94},{"m":"C","x":200,"y":0.92},
{"m":"C","x":720,"y":0.9},{"m":"C","x":780,"y":0.875},{"m":"C","x":820,"y":0.855},{"m":"C","x":880,"y":0.885},{"m":"C","x":950,"y":0.895},{"m":"C","x":1000,"y":0.905},{"m":"C","x":1080,"y":0.89},{"m":"C","x":1140,"y":0.895},{"m":"C","x":900,"y":0.87},
{"m":"C","x":3600,"y":0.89},{"m":"C","x":3700,"y":0.885},{"m":"C","x":3800,"y":0.9},{"m":"C","x":3900,"y":0.905},{"m":"C","x":4000,"y":0.895},{"m":"C","x":4100,"y":0.908},{"m":"C","x":4200,"y":0.9},{"m":"C","x":4300,"y":0.902},{"m":"C","x":4660,"y":0.89},{"m":"C","x":3750,"y":0.88},
{"m":"D","x":60,"y":0.5},{"m":"D","x":60,"y":0.505},{"m":"D","x":60,"y":0.56},{"m":"D","x":60,"y":0.58},{"m":"D","x":60,"y":0.595},{"m":"D","x":60,"y":0.6},{"m":"D","x":60,"y":0.63},{"m":"D","x":60,"y":0.64},{"m":"D","x":60,"y":0.66},{"m":"D","x":60,"y":0.67},{"m":"D","x":60,"y":0.69},{"m":"D","x":60,"y":0.7},{"m":"D","x":60,"y":0.72},{"m":"D","x":60,"y":0.74},{"m":"D","x":60,"y":0.75},{"m":"D","x":60,"y":0.76},
{"m":"D","x":70,"y":0.78},{"m":"D","x":70,"y":0.793},{"m":"D","x":70,"y":0.806},{"m":"D","x":70,"y":0.819},{"m":"D","x":70,"y":0.832},{"m":"D","x":70,"y":0.845},{"m":"D","x":70,"y":0.858},{"m":"D","x":70,"y":0.871},{"m":"D","x":70,"y":0.884},{"m":"D","x":70,"y":0.897},{"m":"D","x":70,"y":0.91},{"m":"D","x":70,"y":0.923},{"m":"D","x":70,"y":0.936},{"m":"D","x":70,"y":0.949},{"m":"D","x":70,"y":0.962},{"m":"D","x":70,"y":0.975},{"m":"D","x":70,"y":0.988},{"m":"D","x":120,"y":1.0},
{"m":"D","x":190,"y":0.785},{"m":"D","x":190,"y":0.798},{"m":"D","x":190,"y":0.811},{"m":"D","x":190,"y":0.824},{"m":"D","x":190,"y":0.837},{"m":"D","x":190,"y":0.85},{"m":"D","x":190,"y":0.863},{"m":"D","x":190,"y":0.876},{"m":"D","x":190,"y":0.889},{"m":"D","x":190,"y":0.902},{"m":"D","x":190,"y":0.915},{"m":"D","x":190,"y":0.928},{"m":"D","x":190,"y":0.941},{"m":"D","x":190,"y":0.954},{"m":"D","x":190,"y":0.967},{"m":"D","x":190,"y":0.98},
{"m":"D","x":800,"y":0.865},{"m":"D","x":800,"y":0.878},{"m":"D","x":800,"y":0.891},{"m":"D","x":800,"y":0.904},{"m":"D","x":800,"y":0.917},{"m":"D","x":800,"y":0.93},{"m":"D","x":800,"y":0.943},{"m":"D","x":800,"y":0.95},
{"m":"D","x":1000,"y":0.856},{"m":"D","x":1000,"y":0.869},{"m":"D","x":1000,"y":0.882},{"m":"D","x":1000,"y":0.895},{"m":"D","x":1000,"y":0.908},{"m":"D","x":1000,"y":0.921},{"m":"D","x":1000,"y":0.934},
{"m":"D","x":3580,"y":0.925},{"m":"D","x":3650,"y":0.905},{"m":"D","x":3700,"y":0.895},{"m":"D","x":3800,"y":0.91},{"m":"D","x":3850,"y":0.89},{"m":"D","x":4000,"y":0.885},{"m":"D","x":4050,"y":0.9},{"m":"D","x":4100,"y":0.88}
],
"ga": [
{"m":"A","x":420,"y":0.807},{"m":"A","x":420,"y":0.819},{"m":"A","x":420,"y":0.831},{"m":"A","x":420,"y":0.843},{"m":"A","x":420,"y":0.855},{"m":"A","x":420,"y":0.867},{"m":"A","x":420,"y":0.879},{"m":"A","x":420,"y":0.891},{"m":"A","x":420,"y":0.903},{"m":"A","x":420,"y":0.915},{"m":"A","x":420,"y":0.927},{"m":"A","x":420,"y":0.939},{"m":"A","x":420,"y":0.951},{"m":"A","x":350,"y":0.97},
{"m":"A","x":2530,"y":0.95},{"m":"A","x":2580,"y":0.94},{"m":"A","x":2620,"y":0.933},{"m":"A","x":2560,"y":0.946},{"m":"A","x":2600,"y":0.938},
{"m":"A","x":4850,"y":0.95},{"m":"A","x":4900,"y":0.945},{"m":"A","x":4950,"y":0.948},{"m":"A","x":4880,"y":0.952},
{"m":"A","x":5200,"y":0.872},{"m":"A","x":5250,"y":0.858},{"m":"A","x":5300,"y":0.845},{"m":"A","x":5230,"y":0.84},{"m":"A","x":5280,"y":0.865},
{"m":"A","x":6880,"y":0.9},{"m":"A","x":6920,"y":0.89},{"m":"A","x":6950,"y":0.88},{"m":"A","x":6900,"y":0.895},
{"m":"B","x":90,"y":1.0},{"m":"B","x":150,"y":0.98},{"m":"B","x":200,"y":0.96},{"m":"B","x":250,"y":0.94},{"m":"B","x":300,"y":0.93},{"m":"B","x":400,"y":0.92},{"m":"B","x":420,"y":0.905},
{"m":"B","x":1000,"y":0.955},{"m":"B","x":1100,"y":0.945},{"m":"B","x":1150,"y":0.955},{"m":"B","x":1250,"y":0.94},{"m":"B","x":1300,"y":0.95},{"m":"B","x":1400,"y":0.945},{"m":"B","x":1450,"y":0.935},{"m":"B","x":1350,"y":0.955},
{"m":"B","x":3150,"y":0.955},{"m":"B","x":3200,"y":0.948},{"m":"B","x":3250,"y":0.952},{"m":"B","x":3180,"y":0.945},{"m":"B","x":3220,"y":0.957},
{"m":"B","x":4950,"y":0.9},{"m":"B","x":5050,"y":0.905},{"m":"B","x":5150,"y":0.895},{"m":"B","x":5250,"y":0.9},{"m":"B","x":5350,"y":0.898},{"m":"B","x":5100,"y":0.89},
{"m":"C","x":100,"y":0.735},{"m":"C","x":150,"y":0.78},{"m":"C","x":200,"y":0.82},{"m":"C","x":250,"y":0.86},{"m":"C","x":300,"y":0.9},{"m":"C","x":200,"y":0.95},{"m":"C","x":150,"y":0.97},{"m":"C","x":350,"y":0.88},{"m":"C","x":400,"y":0.915},{"m":"C","x":450,"y":0.86},{"m":"C","x":500,"y":0.9},{"m":"C","x":350,"y":0.92},
{"m":"C","x":1000,"y":0.9},{"m":"C","x":1050,"y":0.88},{"m":"C","x":1100,"y":0.865},{"m":"C","x":1150,"y":0.89},{"m":"C","x":1200,"y":0.905},{"m":"C","x":1300,"y":0.9},{"m":"C","x":1350,"y":0.915},{"m":"C","x":1400,"y":0.895},{"m":"C","x":1450,"y":0.91},{"m":"C","x":1540,"y":0.915},
{"m":"C","x":3140,"y":0.875},{"m":"C","x":3600,"y":0.89},{"m":"C","x":3700,"y":0.9},{"m":"C","x":3800,"y":0.905},{"m":"C","x":3900,"y":0.895},{"m":"C","x":3950,"y":0.91},{"m":"C","x":3750,"y":0.888},
{"m":"D","x":40,"y":0.535},{"m":"D","x":40,"y":0.6},{"m":"D","x":40,"y":0.615},{"m":"D","x":40,"y":0.625},{"m":"D","x":40,"y":0.645},{"m":"D","x":40,"y":0.665},{"m":"D","x":40,"y":0.69},{"m":"D","x":40,"y":0.7},{"m":"D","x":40,"y":0.72},{"m":"D","x":40,"y":0.735},{"m":"D","x":40,"y":0.75},
{"m":"D","x":60,"y":0.765},{"m":"D","x":60,"y":0.777},{"m":"D","x":60,"y":0.789},{"m":"D","x":60,"y":0.801},{"m":"D","x":60,"y":0.813},{"m":"D","x":60,"y":0.825},{"m":"D","x":60,"y":0.837},{"m":"D","x":60,"y":0.849},{"m":"D","x":60,"y":0.861},{"m":"D","x":60,"y":0.873},{"m":"D","x":60,"y":0.885},{"m":"D","x":60,"y":0.897},{"m":"D","x":60,"y":0.909},{"m":"D","x":60,"y":0.921},{"m":"D","x":60,"y":0.933},{"m":"D","x":60,"y":0.945},{"m":"D","x":60,"y":0.957},{"m":"D","x":60,"y":0.969},{"m":"D","x":60,"y":0.981},{"m":"D","x":60,"y":1.0},{"m":"D","x":0,"y":1.0},
{"m":"D","x":250,"y":0.775},{"m":"D","x":250,"y":0.787},{"m":"D","x":250,"y":0.799},{"m":"D","x":250,"y":0.811},{"m":"D","x":250,"y":0.823},{"m":"D","x":250,"y":0.835},{"m":"D","x":250,"y":0.847},{"m":"D","x":250,"y":0.859},{"m":"D","x":250,"y":0.871},{"m":"D","x":250,"y":0.883},{"m":"D","x":250,"y":0.895},{"m":"D","x":250,"y":0.907},{"m":"D","x":250,"y":0.919},{"m":"D","x":250,"y":0.931},{"m":"D","x":250,"y":0.943},{"m":"D","x":250,"y":0.955},{"m":"D","x":250,"y":0.967},{"m":"D","x":180,"y":0.99},
{"m":"D","x":1100,"y":0.86},{"m":"D","x":1100,"y":0.872},{"m":"D","x":1100,"y":0.884},{"m":"D","x":1100,"y":0.896},{"m":"D","x":1100,"y":0.908},{"m":"D","x":1100,"y":0.92},{"m":"D","x":1100,"y":0.932},{"m":"D","x":1100,"y":0.944},
{"m":"D","x":1250,"y":0.855},{"m":"D","x":1250,"y":0.867},{"m":"D","x":1250,"y":0.879},{"m":"D","x":1250,"y":0.891},{"m":"D","x":1250,"y":0.903},{"m":"D","x":1250,"y":0.915},{"m":"D","x":1250,"y":0.927},{"m":"D","x":1250,"y":0.939},{"m":"D","x":1250,"y":0.95},
{"m":"D","x":3180,"y":0.915},{"m":"D","x":3220,"y":0.905},{"m":"D","x":3250,"y":0.895},{"m":"D","x":3200,"y":0.9},{"m":"D","x":3700,"y":0.87},{"m":"D","x":3720,"y":0.885},{"m":"D","x":3680,"y":0.9},{"m":"D","x":3750,"y":0.91}
],
"mi": [
{"m":"A","x":250,"y":0.84},{"m":"A","x":275,"y":0.765},{"m":"A","x":300,"y":0.82},{"m":"A","x":330,"y":0.8},{"m":"A","x":280,"y":0.83},{"m":"A","x":200,"y":0.86},{"m":"A","x":350,"y":0.9},{"m":"A","x":300,"y":0.94},{"m":"A","x":320,"y":0.88},
{"m":"A","x":700,"y":0.945},{"m":"A","x":750,"y":0.935},{"m":"A","x":800,"y":0.925},{"m":"A","x":840,"y":0.918},{"m":"A","x":780,"y":0.94},{"m":"A","x":820,"y":0.93},
{"m":"A","x":4650,"y":0.95},{"m":"A","x":4700,"y":0.945},{"m":"A","x":4750,"y":0.948},{"m":"A","x":4680,"y":0.953},
{"m":"A","x":5230,"y":0.87},{"m":"A","x":5290,"y":0.86},{"m":"A","x":5350,"y":0.85},{"m":"A","x":5260,"y":0.848},{"m":"A","x":5320,"y":0.867},
{"m":"A","x":8650,"y":0.9},{"m":"A","x":8700,"y":0.895},{"m":"A","x":8720,"y":0.905},{"m":"A","x":8680,"y":0.898},
{"m":"B","x":300,"y":0.958},{"m":"B","x":350,"y":0.96},{"m":"B","x":400,"y":0.955},{"m":"B","x":450,"y":0.952},{"m":"B","x":250,"y":0.94},
{"m":"B","x":3950,"y":0.955},{"m":"B","x":4050,"y":0.95},{"m":"B","x":4100,"y":0.945},{"m":"B","x":4000,"y":0.958},{"m":"B","x":4150,"y":0.952},
{"m":"B","x":5000,"y":0.912},{"m":"B","x":5080,"y":0.905},{"m":"B","x":5150,"y":0.898},{"m":"B","x":5100,"y":0.915},{"m":"B","x":5050,"y":0.9},
{"m":"C","x":30,"y":0.64},{"m":"C","x":50,"y":0.74},{"m":"C","x":310,"y":0.78},{"m":"C","x":300,"y":0.81},{"m":"C","x":320,"y":0.85},{"m":"C","x":200,"y":0.9},{"m":"C","x":250,"y":0.95},{"m":"C","x":400,"y":0.88},{"m":"C","x":450,"y":0.86},{"m":"C","x":510,"y":0.93},{"m":"C","x":520,"y":0.95},{"m":"C","x":600,"y":0.9},{"m":"C","x":770,"y":0.885},{"m":"C","x":150,"y":0.98},
{"m":"C","x":4000,"y":0.895},{"m":"C","x":4200,"y":0.9},{"m":"C","x":4350,"y":0.91},{"m":"C","x":4500,"y":0.895},{"m":"C","x":4600,"y":0.905},{"m":"C","x":4800,"y":0.9},{"m":"C","x":4950,"y":0.895},{"m":"C","x":5000,"y":0.905},{"m":"C","x":4300,"y":0.89},
{"m":"D","x":30,"y":0.395},{"m":"D","x":30,"y":0.55},{"m":"D","x":30,"y":0.555},{"m":"D","x":30,"y":0.565},{"m":"D","x":30,"y":0.575},{"m":"D","x":30,"y":0.58},{"m":"D","x":30,"y":0.6},{"m":"D","x":30,"y":0.61},{"m":"D","x":30,"y":0.62},{"m":"D","x":30,"y":0.64},{"m":"D","x":30,"y":0.65},{"m":"D","x":30,"y":0.66},{"m":"D","x":30,"y":0.68},{"m":"D","x":30,"y":0.7},{"m":"D","x":30,"y":0.72},{"m":"D","x":30,"y":0.73},
{"m":"D","x":30,"y":0.745},{"m":"D","x":30,"y":0.76},{"m":"D","x":30,"y":0.775},{"m":"D","x":30,"y":0.79},{"m":"D","x":30,"y":0.805},{"m":"D","x":30,"y":0.82},{"m":"D","x":30,"y":0.835},{"m":"D","x":30,"y":0.85},{"m":"D","x":30,"y":0.865},{"m":"D","x":30,"y":0.88},{"m":"D","x":30,"y":0.895},{"m":"D","x":30,"y":0.91},{"m":"D","x":30,"y":0.925},{"m":"D","x":30,"y":0.94},{"m":"D","x":30,"y":0.955},{"m":"D","x":30,"y":0.97},{"m":"D","x":30,"y":0.985},{"m":"D","x":30,"y":1.0},
{"m":"D","x":170,"y":0.76},{"m":"D","x":170,"y":0.775},{"m":"D","x":170,"y":0.79},{"m":"D","x":170,"y":0.805},{"m":"D","x":170,"y":0.82},{"m":"D","x":170,"y":0.835},{"m":"D","x":170,"y":0.85},{"m":"D","x":170,"y":0.865},{"m":"D","x":170,"y":0.88},{"m":"D","x":170,"y":0.895},{"m":"D","x":170,"y":0.91},{"m":"D","x":170,"y":0.925},{"m":"D","x":170,"y":0.94},{"m":"D","x":170,"y":0.955},{"m":"D","x":170,"y":0.97},
{"m":"D","x":480,"y":0.845},{"m":"D","x":480,"y":0.86},{"m":"D","x":480,"y":0.875},{"m":"D","x":480,"y":0.89},{"m":"D","x":480,"y":0.905},{"m":"D","x":480,"y":0.92},{"m":"D","x":480,"y":0.935},{"m":"D","x":480,"y":0.95},
{"m":"D","x":570,"y":0.84},{"m":"D","x":570,"y":0.855},{"m":"D","x":570,"y":0.87},{"m":"D","x":570,"y":0.885},{"m":"D","x":570,"y":0.9},{"m":"D","x":570,"y":0.915},{"m":"D","x":570,"y":0.93},
{"m":"D","x":3980,"y":0.905},{"m":"D","x":4100,"y":0.89},{"m":"D","x":4200,"y":0.91},{"m":"D","x":4300,"y":0.9},{"m":"D","x":4450,"y":0.895},{"m":"D","x":4600,"y":0.91},{"m":"D","x":4700,"y":0.9},{"m":"D","x":4900,"y":0.905},{"m":"D","x":5030,"y":0.895}
]
},
"columns": 3,
"spacing": {"row": 95, "column": 123},
"bounds": "flush",
"align": "all",
"resolve": {"scale": {"x": "independent", "y": "independent"}, "legend": {"color": "independent", "opacity": "independent"}},
"concat": [
{"width": 246, "height": 172, "title": {"text": "(a) Texas"},
 "layer": [
  {"data": {"name": "tx"}, "mark": {"type": "circle", "size": 13},
   "encoding": {
    "x": {"field": "x", "type": "quantitative", "scale": {"domain": [-1061, 22038], "nice": false, "zero": false}, "axis": {"values": [0,5000,10000,15000,20000], "format": "d", "title": "Size of group conditional on threshold"}},
    "y": {"field": "y", "type": "quantitative", "scale": {"domain": [0.646, 0.994], "nice": false, "zero": false}, "axis": {"values": [0.65,0.7,0.75,0.8,0.85,0.9,0.95], "format": ".2f", "title": "Realized threshold and group conditional coverage"}},
    "color": {"field": "m", "type": "nominal", "scale": {"domain": ["A","B","C","D"], "range": ["#0000ff","#bf00bf","#008000","#00bfbf"]}, "legend": {"legendX": 111, "legendY": 142, "labelExpr": "datum.label=='A'?'Split-Conformal: Without groups':datum.label=='B'?'Split-Conformal: With groups, conservative approach':datum.label=='C'?'BatchMVP':'BatchGCP'"}},
    "opacity": {"field": "m", "type": "nominal", "scale": {"domain": ["A","B","C","D"], "range": [0.55,0.6,0.85,0.65]}}
   }},
  {"data": {"values": [{"y": 0.9}]}, "mark": {"type": "rule", "stroke": "#ff0000", "strokeDash": [4,2], "strokeWidth": 1},
   "encoding": {"y": {"field": "y", "type": "quantitative", "scale": {"domain": [0.646, 0.994], "nice": false, "zero": false}}, "color": {"value": "#ff0000"}}}
 ]},
{"width": 246, "height": 172, "title": {"text": "(b) New York"},
 "layer": [
  {"data": {"name": "ny"}, "mark": {"type": "circle", "size": 13},
   "encoding": {
    "x": {"field": "x", "type": "quantitative", "scale": {"domain": [-765, 15400], "nice": false, "zero": false}, "axis": {"values": [0,2000,4000,6000,8000,10000,12000,14000], "format": "d", "title": "Size of group conditional on threshold"}},
    "y": {"field": "y", "type": "quantitative", "scale": {"domain": [0.628, 1.005], "nice": false, "zero": false}, "axis": {"values": [0.65,0.7,0.75,0.8,0.85,0.9,0.95,1.0], "format": ".2f", "title": "Realized threshold and group conditional coverage"}},
    "color": {"field": "m", "type": "nominal", "scale": {"domain": ["A","B","C","D"], "range": ["#0000ff","#bf00bf","#008000","#00bfbf"]}, "legend": {"legendX": 112, "legendY": 142, "labelExpr": "datum.label=='A'?'Split-Conformal: Without groups':datum.label=='B'?'Split-Conformal: With groups, conservative approach':datum.label=='C'?'BatchMVP':'BatchGCP'"}},
    "opacity": {"field": "m", "type": "nominal", "scale": {"domain": ["A","B","C","D"], "range": [0.55,0.6,0.85,0.65]}}
   }},
  {"data": {"values": [{"y": 0.9}]}, "mark": {"type": "rule", "stroke": "#ff6f6f", "strokeDash": [5,2.5], "strokeWidth": 1.7},
   "encoding": {"y": {"field": "y", "type": "quantitative", "scale": {"domain": [0.628, 1.005], "nice": false, "zero": false}}, "color": {"value": "#ff6f6f"}}},
  {"data": {"values": [{"x": -7927, "y": 0.9092, "t": "target c"}]}, "mark": {"type": "text", "align": "left", "baseline": "middle", "fontSize": 4.4, "fill": "#333"},
   "encoding": {"x": {"field": "x", "type": "quantitative", "scale": {"domain": [-765, 15400], "nice": false, "zero": false}}, "y": {"field": "y", "type": "quantitative", "scale": {"domain": [0.628, 1.005], "nice": false, "zero": false}}, "text": {"field": "t"}}}
 ]},
{"width": 240, "height": 172, "title": {"text": "(c) Florida"},
 "layer": [
  {"data": {"name": "fl"}, "mark": {"type": "circle", "size": 13},
   "encoding": {
    "x": {"field": "x", "type": "quantitative", "scale": {"domain": [-908, 16259], "nice": false, "zero": false}, "axis": {"values": [0,2000,4000,6000,8000,10000,12000,14000,16000], "format": "d", "title": "Size of group conditional on threshold"}},
    "y": {"field": "y", "type": "quantitative", "scale": {"domain": [0.504, 1.026], "nice": false, "zero": false}, "axis": {"values": [0.6,0.7,0.8,0.9,1.0], "format": ".1f", "title": "Realized threshold and group conditional coverage"}},
    "color": {"field": "m", "type": "nominal", "scale": {"domain": ["A","B","C","D"], "range": ["#0000ff","#bf00bf","#008000","#00bfbf"]}, "legend": {"legendX": 114, "legendY": 142, "labelExpr": "datum.label=='A'?'Split-Conformal: Without groups':datum.label=='B'?'Split-Conformal: With groups, conservative approac':datum.label=='C'?'BatchMVP':'BatchGCP'"}},
    "opacity": {"field": "m", "type": "nominal", "scale": {"domain": ["A","B","C","D"], "range": [0.55,0.6,0.85,0.65]}}
   }},
  {"data": {"values": [{"y": 0.9}]}, "mark": {"type": "rule", "stroke": "#ff0000", "strokeDash": [4,2], "strokeWidth": 1},
   "encoding": {"y": {"field": "y", "type": "quantitative", "scale": {"domain": [0.504, 1.026], "nice": false, "zero": false}}, "color": {"value": "#ff0000"}}}
 ]},
{"width": 246, "height": 172, "title": {"text": "(d) Pennsylvania"},
 "layer": [
  {"data": {"name": "pa"}, "mark": {"type": "circle", "size": 13},
   "encoding": {
    "x": {"field": "x", "type": "quantitative", "scale": {"domain": [-614, 12760], "nice": false, "zero": false}, "axis": {"values": [0,2000,4000,6000,8000,10000,12000], "format": "d", "title": "Size of group conditional on threshold"}},
    "y": {"field": "y", "type": "quantitative", "scale": {"domain": [0.535, 1.022], "nice": false, "zero": false}, "axis": {"values": [0.6,0.7,0.8,0.9,1.0], "format": ".1f", "title": "Realized threshold and group conditional coverage"}},
    "color": {"field": "m", "type": "nominal", "scale": {"domain": ["A","B","C","D"], "range": ["#0000ff","#bf00bf","#008000","#00bfbf"]}, "legend": {"legendX": 111, "legendY": 141, "labelExpr": "datum.label=='A'?'Split-Conformal: Without groups':datum.label=='B'?'Split-Conformal: With groups, conservative approach':datum.label=='C'?'BatchMVP':'BatchGCP'"}},
    "opacity": {"field": "m", "type": "nominal", "scale": {"domain": ["A","B","C","D"], "range": [0.55,0.6,0.85,0.65]}}
   }},
  {"data": {"values": [{"y": 0.9}]}, "mark": {"type": "rule", "stroke": "#ff0000", "strokeDash": [4,2], "strokeWidth": 1},
   "encoding": {"y": {"field": "y", "type": "quantitative", "scale": {"domain": [0.535, 1.022], "nice": false, "zero": false}}, "color": {"value": "#ff0000"}}}
 ]},
{"width": 246, "height": 172, "title": {"text": "(e) Illinois"},
 "layer": [
  {"data": {"name": "il"}, "mark": {"type": "circle", "size": 13},
   "encoding": {
    "x": {"field": "x", "type": "quantitative", "scale": {"domain": [-567, 11400], "nice": false, "zero": false}, "axis": {"values": [0,2000,4000,6000,8000,10000], "format": "d", "title": "Size of group conditional on threshold"}},
    "y": {"field": "y", "type": "quantitative", "scale": {"domain": [0.352, 1.03], "nice": false, "zero": false}, "axis": {"values": [0.4,0.5,0.6,0.7,0.8,0.9,1.0], "format": ".1f", "title": "Realized threshold and group conditional coverage"}},
    "color": {"field": "m", "type": "nominal", "scale": {"domain": ["A","B","C","D"], "range": ["#0000ff","#bf00bf","#008000","#00bfbf"]}, "legend": {"legendX": 112, "legendY": 141, "labelExpr": "datum.label=='A'?'Split-Conformal: Without groups':datum.label=='B'?'Split-Conformal: With groups, conservative approach':datum.label=='C'?'BatchMVP':'BatchGCP'"}},
    "opacity": {"field": "m", "type": "nominal", "scale": {"domain": ["A","B","C","D"], "range": [0.55,0.6,0.85,0.65]}}
   }},
  {"data": {"values": [{"y": 0.9}]}, "mark": {"type": "rule", "stroke": "#ff6f6f", "strokeDash": [5,2.5], "strokeWidth": 1.7},
   "encoding": {"y": {"field": "y", "type": "quantitative", "scale": {"domain": [0.352, 1.03], "nice": false, "zero": false}}, "color": {"value": "#ff6f6f"}}}
 ]},
{"width": 240, "height": 172, "title": {"text": "(f) Ohio"},
 "layer": [
  {"data": {"name": "oh"}, "mark": {"type": "circle", "size": 13},
   "encoding": {
    "x": {"field": "x", "type": "quantitative", "scale": {"domain": [-616, 11018], "nice": false, "zero": false}, "axis": {"values": [0,2000,4000,6000,8000,10000], "format": "d", "title": "Size of group conditional on threshold"}},
    "y": {"field": "y", "type": "quantitative", "scale": {"domain": [0.417, 1.028], "nice": false, "zero": false}, "axis": {"values": [0.5,0.6,0.7,0.8,0.9,1.0], "format": ".1f", "title": "Realized threshold and group conditional coverage"}},
    "color": {"field": "m", "type": "nominal", "scale": {"domain": ["A","B","C","D"], "range": ["#0000ff","#bf00bf","#008000","#00bfbf"]}, "legend": {"legendX": 114, "legendY": 141, "labelExpr": "datum.label=='A'?'Split-Conformal: Without groups':datum.label=='B'?'Split-Conformal: With groups, conservative approac':datum.label=='C'?'BatchMVP':'BatchGCP'"}},
    "opacity": {"field": "m", "type": "nominal", "scale": {"domain": ["A","B","C","D"], "range": [0.55,0.6,0.85,0.65]}}
   }},
  {"data": {"values": [{"y": 0.9}]}, "mark": {"type": "rule", "stroke": "#ff0000", "strokeDash": [4,2], "strokeWidth": 1},
   "encoding": {"y": {"field": "y", "type": "quantitative", "scale": {"domain": [0.417, 1.028], "nice": false, "zero": false}}, "color": {"value": "#ff0000"}}}
 ]},
{"width": 246, "height": 172, "title": {"text": "(g) North Carolina"},
 "layer": [
  {"data": {"name": "nc"}, "mark": {"type": "circle", "size": 13},
   "encoding": {
    "x": {"field": "x", "type": "quantitative", "scale": {"domain": [-398, 8264], "nice": false, "zero": false}, "axis": {"values": [0,1000,2000,3000,4000,5000,6000,7000,8000], "format": "d", "title": "Size of group conditional on threshold"}},
    "y": {"field": "y", "type": "quantitative", "scale": {"domain": [0.474, 1.027], "nice": false, "zero": false}, "axis": {"values": [0.5,0.6,0.7,0.8,0.9,1.0], "format": ".1f", "title": "Realized threshold and group conditional coverage"}},
    "color": {"field": "m", "type": "nominal", "scale": {"domain": ["A","B","C","D"], "range": ["#0000ff","#bf00bf","#008000","#00bfbf"]}, "legend": {"legendX": 111, "legendY": 141, "labelExpr": "datum.label=='A'?'Split-Conformal: Without groups':datum.label=='B'?'Split-Conformal: With groups, conservative approach':datum.label=='C'?'BatchMVP':'BatchGCP'"}},
    "opacity": {"field": "m", "type": "nominal", "scale": {"domain": ["A","B","C","D"], "range": [0.55,0.6,0.85,0.65]}}
   }},
  {"data": {"values": [{"y": 0.9}]}, "mark": {"type": "rule", "stroke": "#ff0000", "strokeDash": [4,2], "strokeWidth": 1},
   "encoding": {"y": {"field": "y", "type": "quantitative", "scale": {"domain": [0.474, 1.027], "nice": false, "zero": false}}, "color": {"value": "#ff0000"}}}
 ]},
{"width": 246, "height": 172, "title": {"text": "(h) Georgia"},
 "layer": [
  {"data": {"name": "ga"}, "mark": {"type": "circle", "size": 13},
   "encoding": {
    "x": {"field": "x", "type": "quantitative", "scale": {"domain": [-363, 7307], "nice": false, "zero": false}, "axis": {"values": [0,1000,2000,3000,4000,5000,6000,7000], "format": "d", "title": "Size of group conditional on threshold"}},
    "y": {"field": "y", "type": "quantitative", "scale": {"domain": [0.516, 1.025], "nice": false, "zero": false}, "axis": {"values": [0.6,0.7,0.8,0.9,1.0], "format": ".1f", "title": "Realized threshold and group conditional coverage"}},
    "color": {"field": "m", "type": "nominal", "scale": {"domain": ["A","B","C","D"], "range": ["#0000ff","#bf00bf","#008000","#00bfbf"]}, "legend": {"legendX": 112, "legendY": 141, "labelExpr": "datum.label=='A'?'Split-Conformal: Without groups':datum.label=='B'?'Split-Conformal: With groups, conservative approach':datum.label=='C'?'BatchMVP':'BatchGCP'"}},
    "opacity": {"field": "m", "type": "nominal", "scale": {"domain": ["A","B","C","D"], "range": [0.55,0.6,0.85,0.65]}}
   }},
  {"data": {"values": [{"y": 0.9}]}, "mark": {"type": "rule", "stroke": "#ff0000", "strokeDash": [4,2], "strokeWidth": 1},
   "encoding": {"y": {"field": "y", "type": "quantitative", "scale": {"domain": [0.516, 1.025], "nice": false, "zero": false}}, "color": {"value": "#ff0000"}}}
 ]},
{"width": 240, "height": 172, "title": {"text": "(i) Michigan"},
 "layer": [
  {"data": {"name": "mi"}, "mark": {"type": "circle", "size": 13},
   "encoding": {
    "x": {"field": "x", "type": "quantitative", "scale": {"domain": [-499, 8931], "nice": false, "zero": false}, "axis": {"values": [0,2000,4000,6000,8000], "format": "d", "title": "Size of group conditional on threshold"}},
    "y": {"field": "y", "type": "quantitative", "scale": {"domain": [0.372, 1.032], "nice": false, "zero": false}, "axis": {"values": [0.4,0.5,0.6,0.7,0.8,0.9,1.0], "format": ".1f", "title": "Realized threshold and group conditional coverage"}},
    "color": {"field": "m", "type": "nominal", "scale": {"domain": ["A","B","C","D"], "range": ["#0000ff","#bf00bf","#008000","#00bfbf"]}, "legend": {"legendX": 114, "legendY": 141, "labelExpr": "datum.label=='A'?'Split-Conformal: Without groups':datum.label=='B'?'Split-Conformal: With groups, conservative approac':datum.label=='C'?'BatchMVP':'BatchGCP'"}},
    "opacity": {"field": "m", "type": "nominal", "scale": {"domain": ["A","B","C","D"], "range": [0.55,0.6,0.85,0.65]}}
   }},
  {"data": {"values": [{"y": 0.9}]}, "mark": {"type": "rule", "stroke": "#ff6f6f", "strokeDash": [5,2.5], "strokeWidth": 1.7},
   "encoding": {"y": {"field": "y", "type": "quantitative", "scale": {"domain": [0.372, 1.032], "nice": false, "zero": false}}, "color": {"value": "#ff6f6f"}}}
 ]}
]
}
